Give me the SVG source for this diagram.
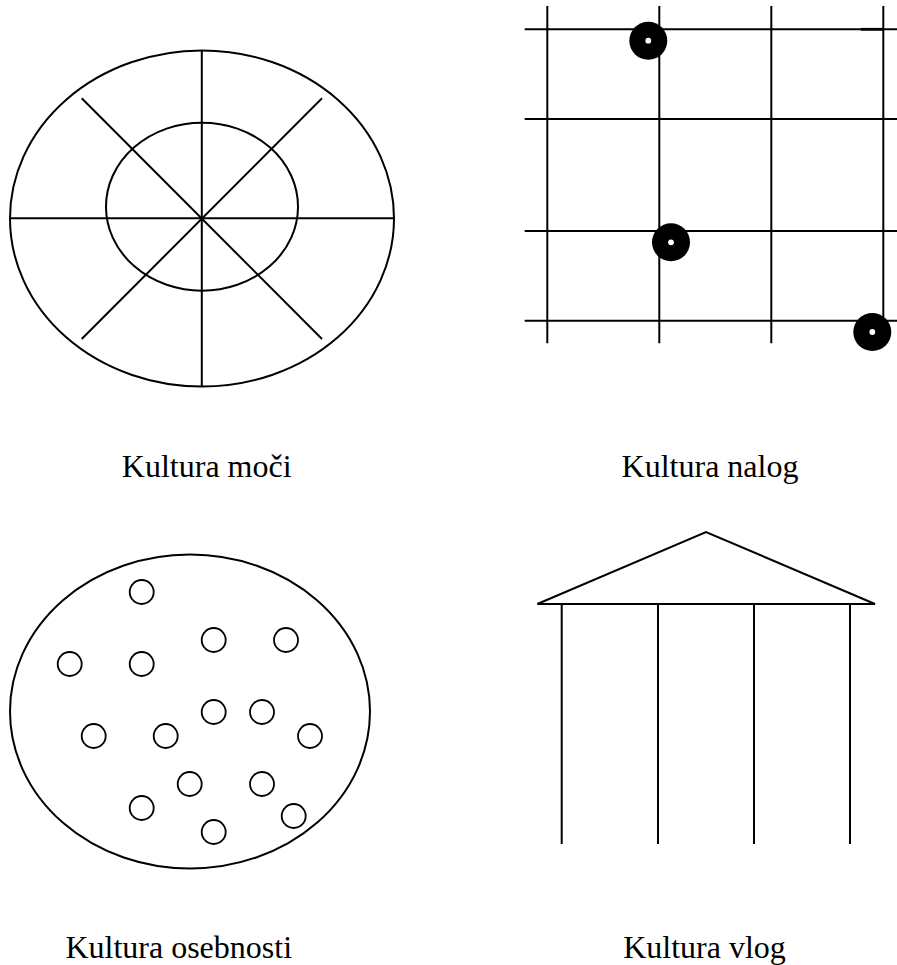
<svg xmlns="http://www.w3.org/2000/svg" width="897" height="965" viewBox="0 0 897 965">
<style>
.s{fill:none;stroke:#000;stroke-width:2}
.c{fill:none;stroke:#000;stroke-width:1.8}
.lbl{font-family:'Liberation Serif','Times New Roman','DejaVu Serif',serif;font-size:32px;fill:#000;text-anchor:middle}
</style>
<defs>
<g id="dot"><circle r="19" fill="#000"/><circle r="2.9" fill="#fff"/></g>
<circle id="sc" r="12" class="c"/>
</defs>
<rect width="897" height="965" fill="#fff"/>

<g id="power">
<ellipse class="s" cx="202" cy="218.5" rx="192" ry="168"/>
<ellipse class="s" cx="202" cy="206.7" rx="96" ry="84"/>
<line class="s" x1="10" y1="218.3" x2="394" y2="218.3"/>
<line class="s" x1="201.8" y1="50.7" x2="201.8" y2="386.7"/>
<line class="s" x1="81.7" y1="98.3" x2="322" y2="339"/>
<line class="s" x1="322" y1="98.3" x2="81.7" y2="339"/>
<text class="lbl" font-family="Liberation Serif, serif" x="206.7" y="476.7">Kultura moči</text>
</g>

<g id="task">
<line class="s" x1="547.3" y1="6" x2="547.3" y2="343.3"/>
<line class="s" x1="659.3" y1="6" x2="659.3" y2="343.3"/>
<line class="s" x1="771.3" y1="6" x2="771.3" y2="343.3"/>
<line class="s" x1="883.3" y1="6" x2="883.3" y2="343.3"/>
<line class="s" x1="524.7" y1="29.3" x2="897" y2="29.3"/>
<line class="s" x1="524.7" y1="119" x2="897" y2="119"/>
<line class="s" x1="524.7" y1="231" x2="897" y2="231"/>
<line class="s" x1="524.7" y1="320.7" x2="897" y2="320.7"/>
<line stroke="#000" stroke-width="2.8" x1="861" y1="29.3" x2="883" y2="29.3"/>
<use href="#dot" x="648.3" y="40.7"/>
<use href="#dot" x="671" y="242.3"/>
<use href="#dot" x="872.3" y="332"/>
<text class="lbl" font-family="Liberation Serif, serif" x="710" y="476.7">Kultura nalog</text>
</g>

<g id="person">
<ellipse class="s" cx="190" cy="711.5" rx="180" ry="157"/>
<use href="#sc" x="141.7" y="592"/>
<use href="#sc" x="213.7" y="640"/>
<use href="#sc" x="286" y="640"/>
<use href="#sc" x="69.7" y="664"/>
<use href="#sc" x="141.7" y="664"/>
<use href="#sc" x="213.7" y="712"/>
<use href="#sc" x="262" y="712"/>
<use href="#sc" x="93.7" y="736"/>
<use href="#sc" x="165.7" y="736"/>
<use href="#sc" x="310" y="736"/>
<use href="#sc" x="189.7" y="784"/>
<use href="#sc" x="262" y="784"/>
<use href="#sc" x="141.7" y="808"/>
<use href="#sc" x="293.7" y="816"/>
<use href="#sc" x="213.7" y="832"/>
<text class="lbl" font-family="Liberation Serif, serif" x="178.7" y="958.3">Kultura osebnosti</text>
</g>

<g id="role">
<polyline class="s" points="537.3,604 706,532 875,604 537.3,604"/>
<line class="s" x1="561.7" y1="604" x2="561.7" y2="844"/>
<line class="s" x1="658" y1="604" x2="658" y2="844"/>
<line class="s" x1="754" y1="604" x2="754" y2="844"/>
<line class="s" x1="850" y1="604" x2="850" y2="844"/>
<text class="lbl" font-family="Liberation Serif, serif" x="704.5" y="958.3">Kultura vlog</text>
</g>

<g id="connectors"/>
</svg>
